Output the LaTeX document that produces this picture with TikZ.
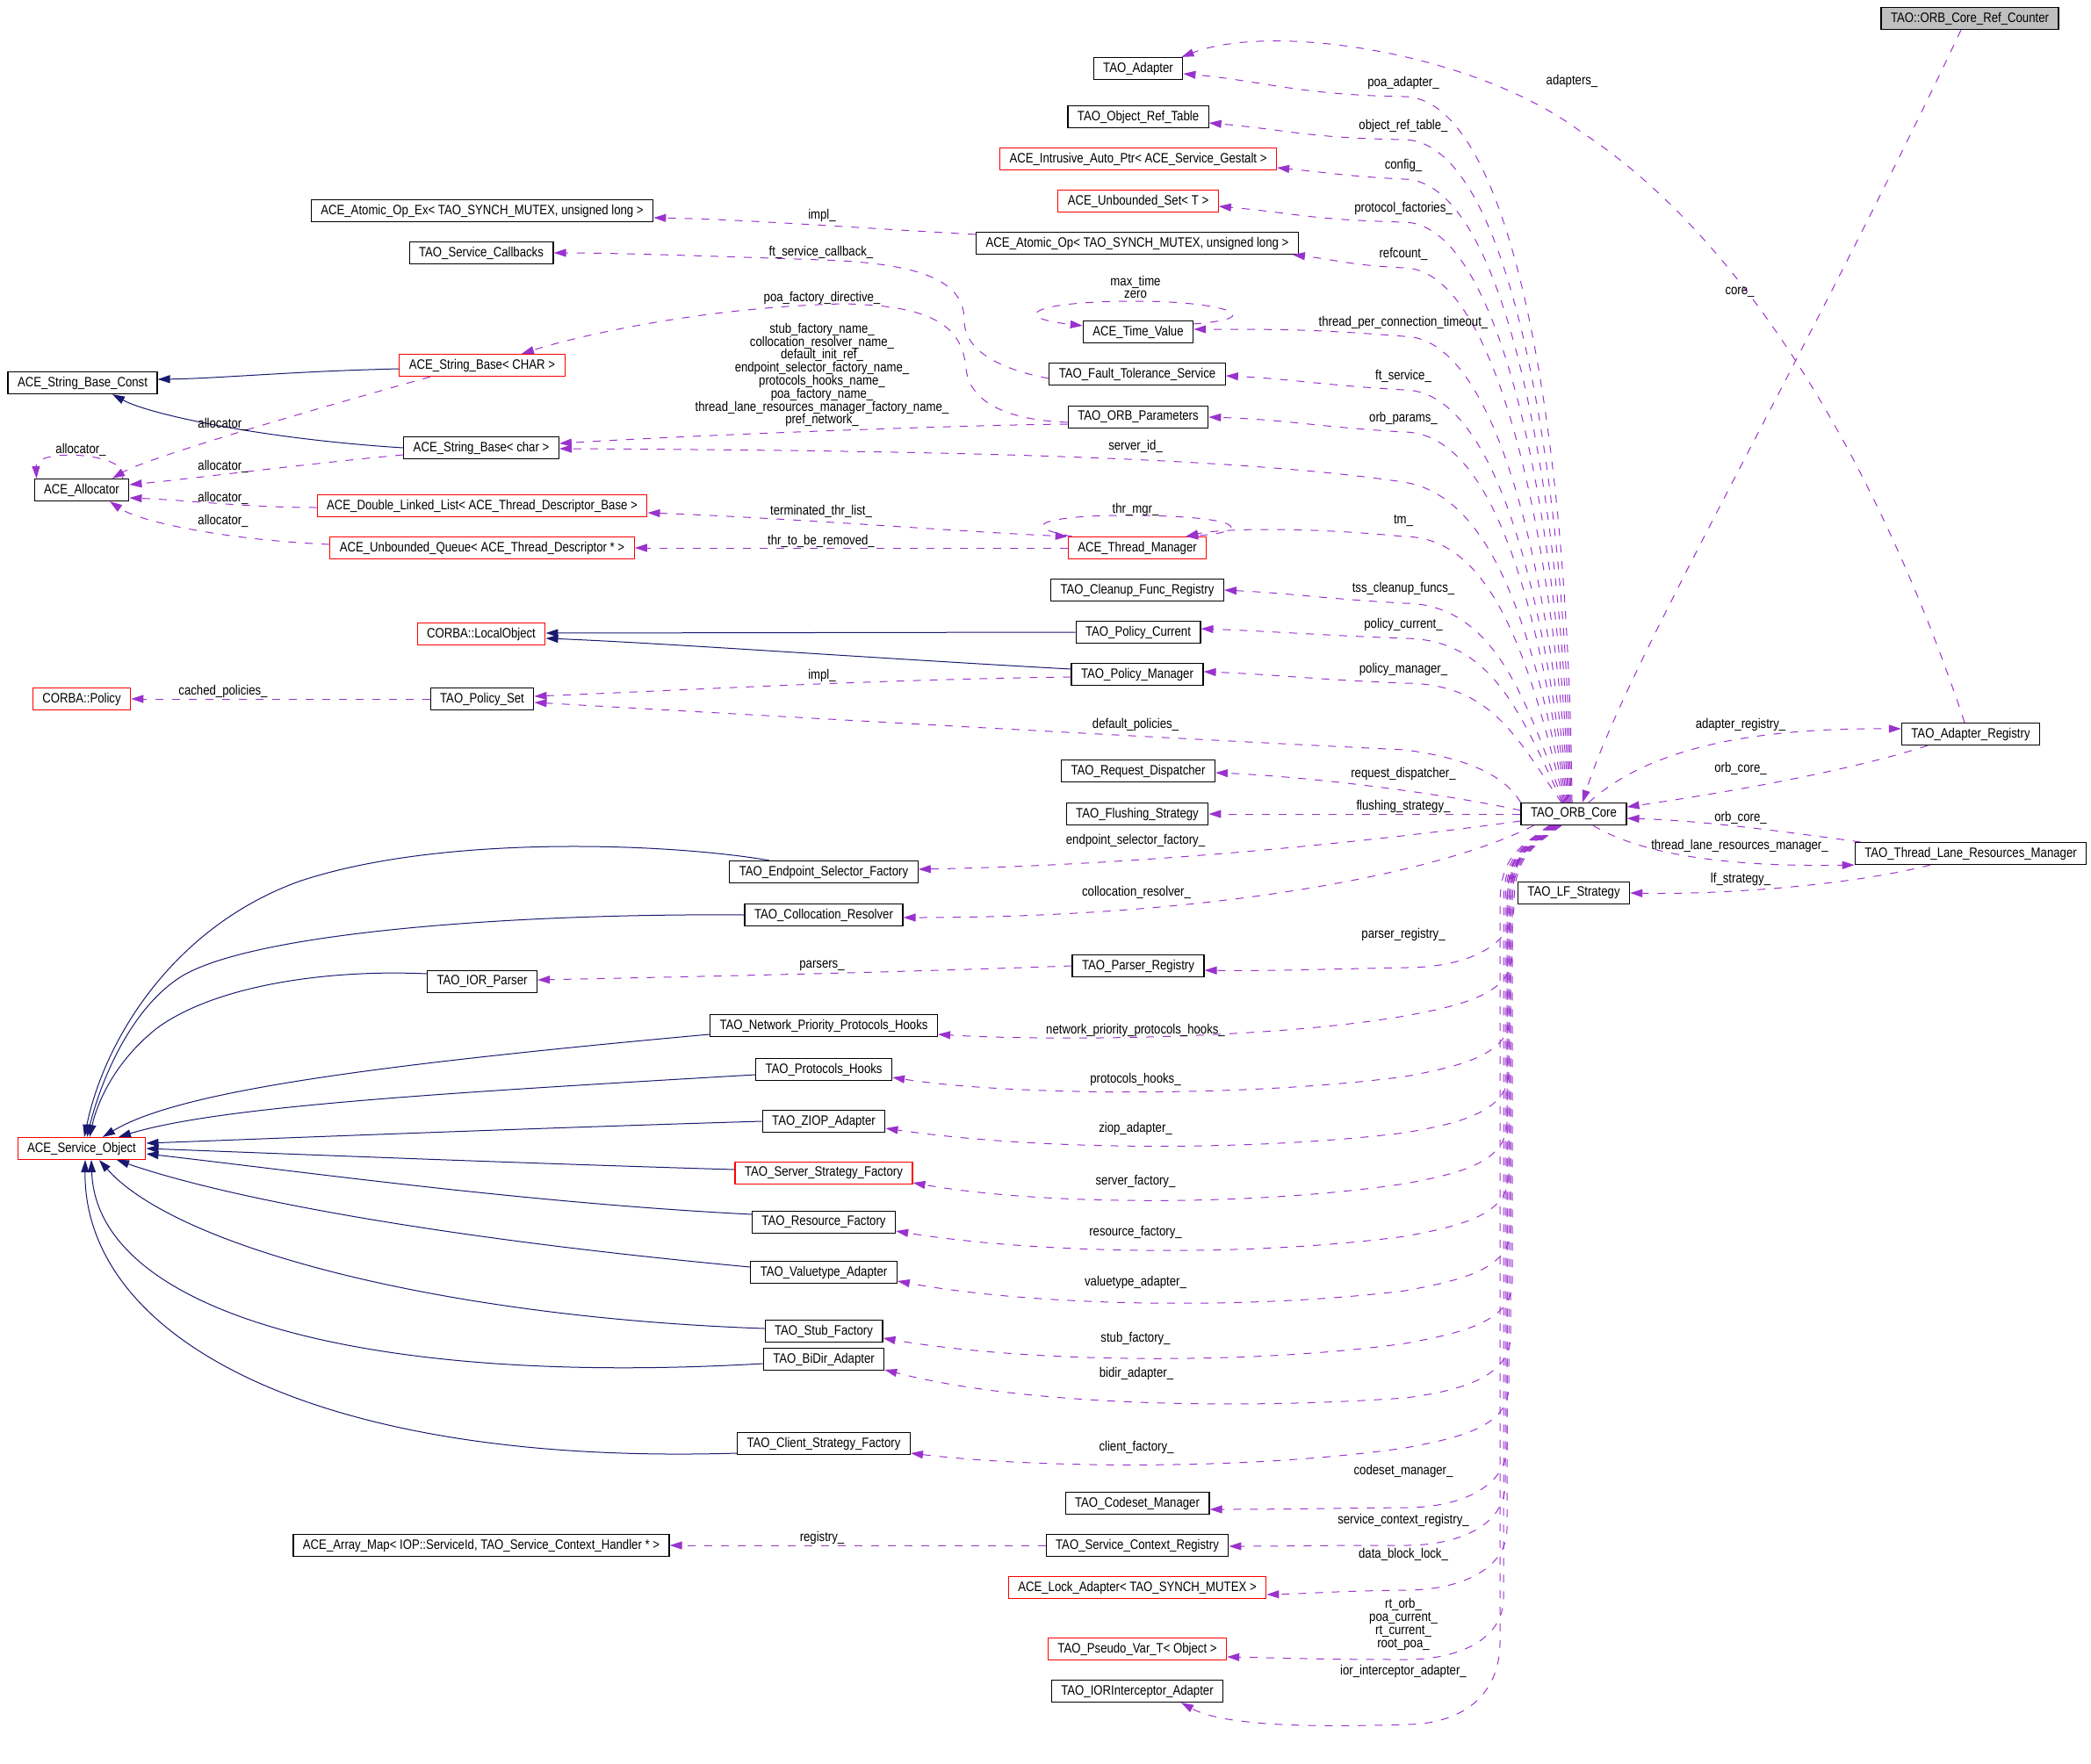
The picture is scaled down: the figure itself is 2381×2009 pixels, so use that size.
\documentclass[tikz,border=0pt]{standalone}
\usepackage{fontspec}
\setmainfont{Liberation Sans}[FakeStretch=0.85]
\usetikzlibrary{arrows.meta}
\definecolor{edgenavy}{HTML}{191970}
\definecolor{edgeorchid}{HTML}{9A32CD}
\definecolor{rootgrey}{HTML}{BFBFBF}

\begin{document}
\begin{tikzpicture}[x=1pt,y=-1pt,
  font=\fontsize{15.5}{14.8}\selectfont,
  >={Triangle[length=14pt,width=9pt]},
  cls/.style={draw=black,line width=1.2pt,minimum height=25pt,inner xsep=11pt,inner ysep=0pt},
  redcls/.style={cls,draw=red},
  rootcls/.style={cls,fill=rootgrey},
  lbl/.style={inner sep=0pt,align=center},
  inh/.style={draw=edgenavy,line width=1pt,->},
  mem/.style={draw=edgeorchid,line width=1pt,dash pattern=on 9pt off 10pt,->}]
\useasboundingbox (0,0) rectangle (2381,2009);

% right column
\node[rootcls] (refc) at (2243,21) {TAO::ORB\_Core\_Ref\_Counter};
\node[cls] (orb) at (1792,927) {TAO\_ORB\_Core};
\node[cls] (adreg) at (2244,836) {TAO\_Adapter\_Registry};
\node[cls] (tlrm) at (2244,972) {TAO\_Thread\_Lane\_Resources\_Manager};
\node[cls] (lfs) at (1792,1017) {TAO\_LF\_Strategy};

% middle column
\node[cls] (adapter) at (1296,78) {TAO\_Adapter};
\node[cls] (ortable) at (1296,133) {TAO\_Object\_Ref\_Table};
\node[redcls] (gestalt) at (1296,181) {ACE\_Intrusive\_Auto\_Ptr< ACE\_Service\_Gestalt >};
\node[redcls] (uset) at (1296,229) {ACE\_Unbounded\_Set< T >};
\node[cls] (aop) at (1295,277) {ACE\_Atomic\_Op< TAO\_SYNCH\_MUTEX, unsigned long >};
\node[cls] (timev) at (1296,378) {ACE\_Time\_Value};
\node[cls] (ftsvc) at (1295,426) {TAO\_Fault\_Tolerance\_Service};
\node[cls] (orbparams) at (1296,475) {TAO\_ORB\_Parameters};
\node[redcls] (thrmgr) at (1295,624) {ACE\_Thread\_Manager};
\node[cls] (cleanup) at (1295,672) {TAO\_Cleanup\_Func\_Registry};
\node[cls] (polcur) at (1296,720) {TAO\_Policy\_Current};
\node[cls] (polmgr) at (1295,768) {TAO\_Policy\_Manager};
\node[cls] (reqdisp) at (1296,878) {TAO\_Request\_Dispatcher};
\node[cls] (flush) at (1295,927) {TAO\_Flushing\_Strategy};
\node[cls] (parreg) at (1296,1100) {TAO\_Parser\_Registry};
\node[cls] (codeset) at (1295,1712) {TAO\_Codeset\_Manager};
\node[cls] (scr) at (1295,1760) {TAO\_Service\_Context\_Registry};
\node[redcls] (lockad) at (1295,1808) {ACE\_Lock\_Adapter< TAO\_SYNCH\_MUTEX >};
\node[redcls] (pseudo) at (1295,1878) {TAO\_Pseudo\_Var\_T< Object >};
\node[cls] (iorint) at (1295,1926) {TAO\_IORInterceptor\_Adapter};

% service object column
\node[cls] (epsel) at (938,993) {TAO\_Endpoint\_Selector\_Factory};
\node[cls] (colres) at (938,1042) {TAO\_Collocation\_Resolver};
\node[cls] (nph) at (938,1168) {TAO\_Network\_Priority\_Protocols\_Hooks};
\node[cls] (phooks) at (938,1218) {TAO\_Protocols\_Hooks};
\node[cls] (ziop) at (938,1277) {TAO\_ZIOP\_Adapter};
\node[redcls] (ssf) at (938,1336) {TAO\_Server\_Strategy\_Factory};
\node[cls] (resf) at (938,1392) {TAO\_Resource\_Factory};
\node[cls] (vta) at (938,1449) {TAO\_Valuetype\_Adapter};
\node[cls] (stubf) at (938,1516) {TAO\_Stub\_Factory};
\node[cls] (bidir) at (938,1548) {TAO\_BiDir\_Adapter};
\node[cls] (csf) at (938,1644) {TAO\_Client\_Strategy\_Factory};

% left-middle column
\node[cls] (aopex) at (549,240) {ACE\_Atomic\_Op\_Ex< TAO\_SYNCH\_MUTEX, unsigned long >};
\node[cls] (svccb) at (548,288) {TAO\_Service\_Callbacks};
\node[redcls] (strchar) at (549,416) {ACE\_String\_Base< CHAR >};
\node[cls] (strc) at (548,510) {ACE\_String\_Base< char >};
\node[redcls] (dlist) at (549,576) {ACE\_Double\_Linked\_List< ACE\_Thread\_Descriptor\_Base >};
\node[redcls] (uqueue) at (549,624) {ACE\_Unbounded\_Queue< ACE\_Thread\_Descriptor * >};
\node[redcls] (localobj) at (548,722) {CORBA::LocalObject};
\node[cls] (polset) at (549,796) {TAO\_Policy\_Set};
\node[cls] (iorp) at (549,1118) {TAO\_IOR\_Parser};
\node[cls] (arrmap) at (548,1760) {ACE\_Array\_Map< IOP::ServiceId, TAO\_Service\_Context\_Handler * >};

% far left
\node[cls] (strconst) at (94,436) {ACE\_String\_Base\_Const};
\node[cls] (alloc) at (93,558) {ACE\_Allocator};
\node[redcls] (policy) at (93,796) {CORBA::Policy};
\node[redcls] (svcobj) at (93,1308) {ACE\_Service\_Object};

% inheritance
\draw[inh] ([yshift=-4pt]strchar.west) .. controls (330,423) and (250,431) .. ([yshift=4pt]strconst.east);
\draw[inh] (strc.west) .. controls (300,500) and (170,472) .. ([xshift=34pt]strconst.south);
\draw[inh] (polcur.west) -- ([yshift=1pt]localobj.east);
\draw[inh] ([yshift=6pt]polmgr.west) .. controls (1000,750) and (750,732) .. ([yshift=-5pt]localobj.east);
\draw[inh] ([xshift=-62pt]epsel.north) .. controls (760,960) and (500,950) .. (340,1004) .. controls (200,1055) and (120,1180) .. ([xshift=3pt]svcobj.north);
\draw[inh] (colres.west) .. controls (600,1040) and (300,1060) .. (210,1110) .. controls (150,1145) and (115,1230) .. ([xshift=6pt]svcobj.north);
\draw[inh] ([yshift=9pt]iorp.west) .. controls (380,1104) and (250,1120) .. (180,1170) .. controls (135,1205) and (112,1250) .. ([xshift=9pt]svcobj.north);
\draw[inh] ([yshift=-10pt]nph.west) .. controls (400,1215) and (200,1245) .. ([xshift=24pt]svcobj.north);
\draw[inh] ([yshift=-6pt]phooks.west) .. controls (500,1245) and (250,1260) .. ([xshift=42pt]svcobj.north);
\draw[inh] (ziop.west) .. controls (600,1285) and (300,1297) .. ([yshift=6pt]svcobj.east);
\draw[inh] ([yshift=4pt]ssf.west) .. controls (600,1325) and (350,1315) .. (svcobj.east);
\draw[inh] ([yshift=9pt]resf.west) .. controls (600,1370) and (350,1335) .. ([yshift=-6pt]svcobj.east);
\draw[inh] ([yshift=6pt]vta.west) .. controls (500,1410) and (260,1365) .. ([xshift=40pt]svcobj.south);
\draw[inh] ([yshift=3pt]stubf.west) .. controls (500,1500) and (200,1420) .. ([xshift=20pt]svcobj.south);
\draw[inh] ([yshift=-5pt]bidir.west) .. controls (400,1580) and (110,1490) .. ([xshift=11pt]svcobj.south);
\draw[inh] ([yshift=-11pt]csf.west) .. controls (350,1670) and (95,1520) .. ([xshift=4pt]svcobj.south);

% members, left part
\draw[mem] ([xshift=-59pt]strchar.south) .. controls (380,460) and (170,520) .. ([xshift=35pt]alloc.north);
\draw[mem] ([xshift=-8pt]alloc.north east) .. controls (150,515) and (40,510) .. ([xshift=3pt]alloc.north west);
\draw[mem] ([yshift=-8pt]strc.west) .. controls (350,528) and (220,545) .. ([yshift=6pt]alloc.east);
\draw[mem] ([yshift=-2pt]dlist.west) .. controls (280,578) and (220,570) .. ([yshift=-9pt]alloc.east);
\draw[mem] ([yshift=4pt]uqueue.west) .. controls (260,615) and (160,595) .. ([xshift=32pt]alloc.south);
\draw[mem] ([yshift=10pt]aop.west) .. controls (950,258) and (850,250) .. ([yshift=-8pt]aopex.east);
\draw[mem] ([yshift=-5pt]ftsvc.west) .. controls (1140,421) and (1098,400) .. (1098,365) .. controls (1098,320) and (1050,300) .. (936,296) .. controls (820,292) and (700,288) .. (svccb.east);
\draw[mem] ([yshift=-6pt]orbparams.west) .. controls (1140,478) and (1104,455) .. (1100,420) .. controls (1096,370) and (1060,348) .. (960,346) .. controls (800,350) and (660,382) .. ([xshift=45pt]strchar.north);
\draw[mem] ([yshift=-8pt]orbparams.west) .. controls (1100,484) and (800,495) .. ([yshift=5pt]strc.east);
\draw[mem,<->] ([yshift=-8pt]dlist.east) .. controls (900,590) and (1100,606) .. (thrmgr.north west);
\draw[mem] (thrmgr.west) -- (uqueue.east);
\draw[mem] ([xshift=5pt]thrmgr.north west) .. controls (1150,598) and (1200,586) .. (1293,587) .. controls (1420,588) and (1425,606) .. ([xshift=-24pt]thrmgr.north east);
\draw[mem] ([yshift=-4pt]timev.north east) .. controls (1450,362) and (1390,343) .. (1295,343) .. controls (1170,343) and (1150,362) .. ([yshift=-6pt]timev.north west);
\draw[mem] ([yshift=-3pt]polmgr.west) .. controls (1000,774) and (800,785) .. ([yshift=3pt]polset.east);
\draw[mem] (polset.west) -- (policy.east);
\draw[mem] (parreg.west) .. controls (1000,1108) and (800,1112) .. ([yshift=2pt]iorp.east);
\draw[mem] (scr.west) -- (arrmap.east);

% members of the ORB core, upwards
\draw[mem] ([xshift=-2pt]orb.north) .. controls +(-4,-442) and +(120,0) .. (1598,110) .. controls +(-120,-2) and +(90,8) .. ([yshift=-6pt]adapter.east);
\draw[mem] ([xshift=-3pt]orb.north) .. controls +(-8,-415) and +(115,0) .. (1598,159) .. controls +(-110,-2) and +(90,8) .. ([yshift=-7pt]ortable.east);
\draw[mem] ([xshift=-4pt]orb.north) .. controls +(-12,-390) and +(110,0) .. (1598,204) .. controls +(-60,-3) and +(60,6) .. ([yshift=-10pt]gestalt.east);
\draw[mem] ([xshift=-5pt]orb.north) .. controls +(-16,-364) and +(105,0) .. (1598,253) .. controls +(-110,-3) and +(90,8) .. ([yshift=-6pt]uset.east);
\draw[mem] ([xshift=-6pt]orb.north) .. controls +(-20,-335) and +(100,0) .. (1598,305) .. controls +(-60,-3) and +(50,6) .. ([xshift=-7pt]aop.south east);
\draw[mem] ([xshift=-7pt]orb.north) .. controls +(-24,-292) and +(100,0) .. (1598,383) .. controls +(-100,-8) and +(100,0) .. ([yshift=3pt]timev.east);
\draw[mem] ([xshift=-8pt]orb.north) .. controls +(-28,-258) and +(100,0) .. (1598,444) .. controls +(-100,-6) and +(80,4) .. ([yshift=-2pt]ftsvc.east);
\draw[mem] ([xshift=-9pt]orb.north) .. controls +(-32,-232) and +(100,0) .. (1598,492) .. controls +(-100,-6) and +(90,3) .. (orbparams.east);
\draw[mem] ([xshift=-10pt]orb.north) .. controls +(-36,-200) and +(100,15) .. (1598,549) .. controls +(-200,-30) and +(400,2) .. ([yshift=-1pt]strc.east);
\draw[mem] ([xshift=-11pt]orb.north) .. controls +(-40,-167) and +(100,0) .. (1598,611) .. controls +(-100,-10) and +(45,-10) .. ([xshift=-24pt]thrmgr.north east);
\draw[mem] ([xshift=-12pt]orb.north) .. controls +(-44,-125) and +(100,0) .. (1598,687) .. controls +(-100,-6) and +(80,4) .. (cleanup.east);
\draw[mem] ([xshift=-13pt]orb.north) .. controls +(-48,-103) and +(100,0) .. (1598,727) .. controls +(-100,-4) and +(80,3) .. ([yshift=4pt]polcur.east);
\draw[mem] ([xshift=-14pt]orb.north) .. controls +(-52,-75) and +(100,0) .. (1598,778) .. controls +(-100,-4) and +(80,3) .. ([yshift=3pt]polmgr.east);
\draw[mem] (orb.north west) .. controls +(-20,-35) and +(60,8) .. (1600,854) .. controls +(-250,-12) and +(350,20) .. ([yshift=-4pt]polset.east);
\draw[mem] ([yshift=4pt]orb.west) .. controls (1650,905) and (1500,885) .. ([yshift=-2pt]reqdisp.east);
\draw[mem] (orb.west) -- (flush.east);
\draw[mem] ([yshift=-8pt]orb.west) .. controls (1550,960) and (1300,985) .. ([yshift=3pt]epsel.east);
\draw[mem] ([xshift=15pt]orb.south west) .. controls (1650,990) and (1400,1045) .. ([yshift=-3pt]colres.east);

% members of the ORB core, downwards
\draw[mem] ([xshift=-14pt]orb.south) .. controls (1745,965) and (1724,975) .. (1724,1030) .. controls (1724,1080) and (1665,1102) .. (1600,1102) .. controls (1500,1104) and (1440,1106) .. ([yshift=-5pt]parreg.east);
\draw[mem] ([xshift=-15pt]orb.south) .. controls (1744,965) and (1722,975) .. (1722,1030) -- (1722,1087) .. controls (1722,1132) and (1665,1145) .. (1600,1157) .. controls (1450,1183) and (1200,1186) .. ([yshift=-10pt]nph.east);
\draw[mem] ([xshift=-16pt]orb.south) .. controls (1743,965) and (1720,975) .. (1720,1030) -- (1720,1156) .. controls (1720,1201) and (1665,1214) .. (1600,1226) .. controls (1420,1250) and (1150,1248) .. ([yshift=-9pt]phooks.east);
\draw[mem] ([xshift=-17pt]orb.south) .. controls (1742,965) and (1718,975) .. (1718,1030) -- (1718,1220) .. controls (1718,1265) and (1665,1279) .. (1600,1290) .. controls (1420,1312) and (1180,1310) .. ([yshift=-8pt]ziop.east);
\draw[mem] ([xshift=-18pt]orb.south) .. controls (1741,965) and (1716,975) .. (1716,1030) -- (1716,1278) .. controls (1716,1323) and (1665,1336) .. (1600,1348) .. controls (1420,1375) and (1180,1372) .. ([yshift=-11pt]ssf.east);
\draw[mem] ([xshift=-19pt]orb.south) .. controls (1740,965) and (1718,975) .. (1718,1030) -- (1718,1338) .. controls (1718,1383) and (1665,1396) .. (1600,1408) .. controls (1420,1432) and (1180,1428) .. ([yshift=-10pt]resf.east);
\draw[mem] ([xshift=-20pt]orb.south) .. controls (1739,965) and (1720,975) .. (1720,1030) -- (1720,1400) .. controls (1720,1445) and (1665,1458) .. (1600,1470) .. controls (1420,1492) and (1180,1488) .. ([yshift=-10pt]vta.east);
\draw[mem] ([xshift=-21pt]orb.south) .. controls (1738,965) and (1722,975) .. (1722,1030) -- (1722,1460) .. controls (1722,1505) and (1665,1518) .. (1600,1530) .. controls (1420,1555) and (1170,1552) .. ([yshift=-8pt]stubf.east);
\draw[mem] ([xshift=-22pt]orb.south) .. controls (1737,965) and (1720,975) .. (1720,1030) -- (1720,1522) .. controls (1720,1567) and (1665,1584) .. (1600,1592) .. controls (1420,1605) and (1170,1602) .. ([yshift=-12pt]bidir.east);
\draw[mem] ([xshift=-23pt]orb.south) .. controls (1736,965) and (1718,975) .. (1718,1030) -- (1718,1579) .. controls (1718,1624) and (1665,1637) .. (1600,1649) .. controls (1420,1675) and (1180,1672) .. ([yshift=-11pt]csf.east);
\draw[mem] ([xshift=-24pt]orb.south) .. controls (1735,965) and (1716,975) .. (1716,1030) -- (1716,1647) .. controls (1716,1692) and (1665,1717) .. (1600,1717) .. controls (1500,1718) and (1450,1719) .. ([yshift=-7pt]codeset.east);
\draw[mem] ([xshift=-25pt]orb.south) .. controls (1734,965) and (1714,975) .. (1714,1030) -- (1714,1690) .. controls (1714,1735) and (1665,1760) .. (1600,1760) .. controls (1500,1760) and (1460,1761) .. ([yshift=-1pt]scr.east);
\draw[mem] ([xshift=-26pt]orb.south) .. controls (1733,965) and (1716,975) .. (1716,1030) -- (1716,1741) .. controls (1716,1786) and (1665,1811) .. (1600,1811) .. controls (1520,1812) and (1490,1815) .. ([yshift=-8pt]lockad.east);
\draw[mem] ([xshift=-27pt]orb.south) .. controls (1732,965) and (1712,975) .. (1712,1030) -- (1712,1820) .. controls (1712,1865) and (1665,1890) .. (1600,1890) .. controls (1500,1890) and (1450,1888) .. ([yshift=-9pt]pseudo.east);
\draw[mem] ([xshift=-28pt]orb.south) .. controls (1731,965) and (1708,975) .. (1708,1030) -- (1708,1870) .. controls (1708,1935) and (1660,1964) .. (1600,1964) .. controls (1480,1968) and (1390,1964) .. ([xshift=50pt]iorint.south);

% right part
\draw[mem] ([xshift=-10pt]refc.south) .. controls (2050,420) and (1850,760) .. ([xshift=10pt]orb.north);
\draw[mem] ([xshift=-7pt]adreg.north) .. controls (2150,560) and (2000,280) .. (1800,150) .. controls (1680,60) and (1450,25) .. ([xshift=-2pt]adapter.north east);
\draw[mem] ([xshift=17pt]orb.north) .. controls (1880,850) and (2000,829) .. ([yshift=6pt]adreg.west);
\draw[mem] ([xshift=-49pt]adreg.south) .. controls (2100,880) and (1950,905) .. ([yshift=8pt]orb.east);
\draw[mem] ([xshift=7pt]tlrm.north west) .. controls (2050,950) and (1950,935) .. ([yshift=-5pt]orb.east);
\draw[mem] ([xshift=22pt]orb.south) .. controls (1880,980) and (2000,987) .. (tlrm.south west);
\draw[mem] ([xshift=-46pt]tlrm.south) .. controls (2100,1010) and (1950,1019) .. (lfs.east);

% labels
\node[lbl] (lpoa) at (1598,94) {poa\_adapter\_};
\node[lbl] (lortab) at (1598,143) {object\_ref\_table\_};
\node[lbl] (lconfig) at (1598,188) {config\_};
\node[lbl] (lprotf) at (1598,237) {protocol\_factories\_};
\node[lbl] (lrefc) at (1598,289) {refcount\_};
\node[lbl] (ltpct) at (1598,367) {thread\_per\_connection\_timeout\_};
\node[lbl] (lfts) at (1598,428) {ft\_service\_};
\node[lbl] (lorbp) at (1598,476) {orb\_params\_};
\node[lbl] (ltm) at (1598,593) {tm\_};
\node[lbl] (ltss) at (1598,670) {tss\_cleanup\_funcs\_};
\node[lbl] (lpolcur) at (1598,711) {policy\_current\_};
\node[lbl] (lpolmgr) at (1598,762) {policy\_manager\_};
\node[lbl] (lreqd) at (1598,881) {request\_dispatcher\_};
\node[lbl] (lflush) at (1598,918) {flushing\_strategy\_};
\node[lbl] (lparreg) at (1598,1064) {parser\_registry\_};
\node[lbl] (lcodeset) at (1598,1675) {codeset\_manager\_};
\node[lbl] (lscr) at (1598,1731) {service\_context\_registry\_};
\node[lbl] (ldbl) at (1598,1770) {data\_block\_lock\_};
\node[lbl] (lpseudo) at (1598,1850) {rt\_orb\_\\poa\_current\_\\rt\_current\_\\root\_poa\_};
\node[lbl] (liorint) at (1598,1903) {ior\_interceptor\_adapter\_};
\node[lbl] (ladapters) at (1790,92) {adapters\_};
\node[lbl] (lcore) at (1981,333) {core\_};
\node[lbl] (ladreg) at (1982,825) {adapter\_registry\_};
\node[lbl] (lorbc1) at (1982,875) {orb\_core\_};
\node[lbl] (lorbc2) at (1982,931) {orb\_core\_};
\node[lbl] (ltlrm) at (1981,963) {thread\_lane\_resources\_manager\_};
\node[lbl] (llfs) at (1982,1001) {lf\_strategy\_};
\node[lbl] (lmaxt) at (1293,327) {max\_time\\zero};
\node[lbl] (lsrvid) at (1293,508) {server\_id\_};
\node[lbl] (lthrmgr) at (1293,580) {thr\_mgr\_};
\node[lbl] (ldefpol) at (1293,825) {default\_policies\_};
\node[lbl] (lepsel) at (1293,957) {endpoint\_selector\_factory\_};
\node[lbl] (lcolres) at (1294,1016) {collocation\_resolver\_};
\node[lbl] (lnph) at (1293,1173) {network\_priority\_protocols\_hooks\_};
\node[lbl] (lphooks) at (1293,1229) {protocols\_hooks\_};
\node[lbl] (lziop) at (1293,1285) {ziop\_adapter\_};
\node[lbl] (lssf) at (1293,1345) {server\_factory\_};
\node[lbl] (lresf) at (1293,1403) {resource\_factory\_};
\node[lbl] (lvta) at (1293,1460) {valuetype\_adapter\_};
\node[lbl] (lstubf) at (1293,1524) {stub\_factory\_};
\node[lbl] (lbidir) at (1294,1564) {bidir\_adapter\_};
\node[lbl] (lcsf) at (1294,1648) {client\_factory\_};
\node[lbl] (limpl1) at (936,245) {impl\_};
\node[lbl] (lftcb) at (935,287) {ft\_service\_callback\_};
\node[lbl] (lpoafd) at (936,339) {poa\_factory\_directive\_};
\node[lbl] (lstrs) at (936,427) {stub\_factory\_name\_\\collocation\_resolver\_name\_\\default\_init\_ref\_\\endpoint\_selector\_factory\_name\_\\protocols\_hooks\_name\_\\poa\_factory\_name\_\\thread\_lane\_resources\_manager\_factory\_name\_\\pref\_network\_};
\node[lbl] (lterm) at (935,582) {terminated\_thr\_list\_};
\node[lbl] (lthrrm) at (935,616) {thr\_to\_be\_removed\_};
\node[lbl] (limpl2) at (936,769) {impl\_};
\node[lbl] (lparsers) at (936,1100) {parsers\_};
\node[lbl] (lregistry) at (936,1751) {registry\_};
\node[lbl] (lalloc1) at (254,483) {allocator\_};
\node[lbl] (lallocself) at (92,512) {allocator\_};
\node[lbl] (lalloc2) at (254,531) {allocator\_};
\node[lbl] (lalloc3) at (254,567) {allocator\_};
\node[lbl] (lalloc4) at (254,593) {allocator\_};
\node[lbl] (lcached) at (254,787) {cached\_policies\_};
\end{tikzpicture}
\end{document}
